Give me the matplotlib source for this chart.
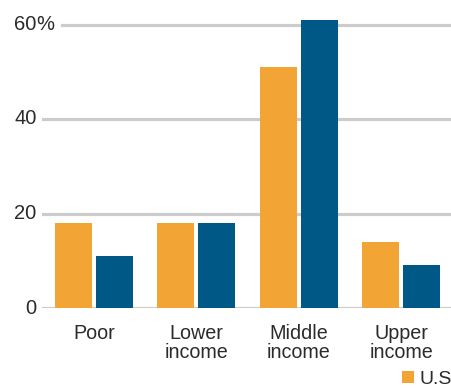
import numpy as np
import matplotlib
matplotlib.use("Agg")
import matplotlib.pyplot as plt
import matplotlib.transforms as mtransforms

# --- data ---
categories = ["Poor", "Lower\nincome", "Middle\nincome", "Upper\nincome"]
us_share = [18, 18, 51, 14]
other_share = [11, 18, 61, 9]
y_ticks = [0, 20, 40, 60]
legend_label = "U.S"

orange = "#F2A535"
blue = "#005887"
grid_gray = "#CCCCCC"
text_col = "#2B2B2B"

plt.rcParams["font.family"] = ["Liberation Sans", "DejaVu Sans"]

W, H = 452, 388
fig = plt.figure(figsize=(W / 100, H / 100), dpi=100)

# axes: left at 42px, zero line at y=308px, top at figure edge
px_per_unit_y = 4.725
ax = fig.add_axes([42 / W, (H - 308) / H, 1 - 42 / W, 308 / H])
ax.set_ylim(0, 308 / px_per_unit_y)
px_per_group = 102.4
xmin = -(94 - 42) / px_per_group
ax.set_xlim(xmin, xmin + (W - 42) / px_per_group)

x = np.arange(len(categories))
bar_w = 37 / px_per_group
off = 20.5 / px_per_group
bars_us = ax.bar(x - off, us_share, width=bar_w, color=orange, zorder=3, label=legend_label)
ax.bar(x + off, other_share, width=bar_w, color=blue, zorder=3)

ax.axis("off")

# gridlines (the top one starts after the wider "60%" label)
for t in y_ticks:
    start = (62 - 42) / (W - 42) if t == y_ticks[-1] else 0
    ax.axhline(t, xmin=start, xmax=1, color=grid_gray, linewidth=2.3, zorder=1)

# y tick labels, right aligned, with the "%" hanging on the top one
trans = mtransforms.blended_transform_factory(fig.transFigure, ax.transData)
for t in y_ticks:
    ax.text(36.5 / W, t, str(t), transform=trans, ha="right", va="center",
            fontsize=14.5, color=text_col, clip_on=False)
ax.text(36.5 / W, y_ticks[-1], "%", transform=trans, ha="left", va="center",
        fontsize=14.5, color=text_col, clip_on=False)

# category labels under each group
for xi, lab in zip(x, categories):
    ax.text(xi, -16 / px_per_unit_y, lab, ha="center", va="top", fontsize=14.2,
            color=text_col, linespacing=1.0, clip_on=False)

fig.legend(handles=[bars_us], labels=[legend_label], loc="lower right",
           bbox_to_anchor=(1.0, 0.0), frameon=False, fontsize=14,
           handlelength=0.62, handleheight=0.62, handletextpad=0.3,
           borderaxespad=0.0, borderpad=0.0, labelcolor=text_col)

fig.savefig("out.png", dpi=100)
